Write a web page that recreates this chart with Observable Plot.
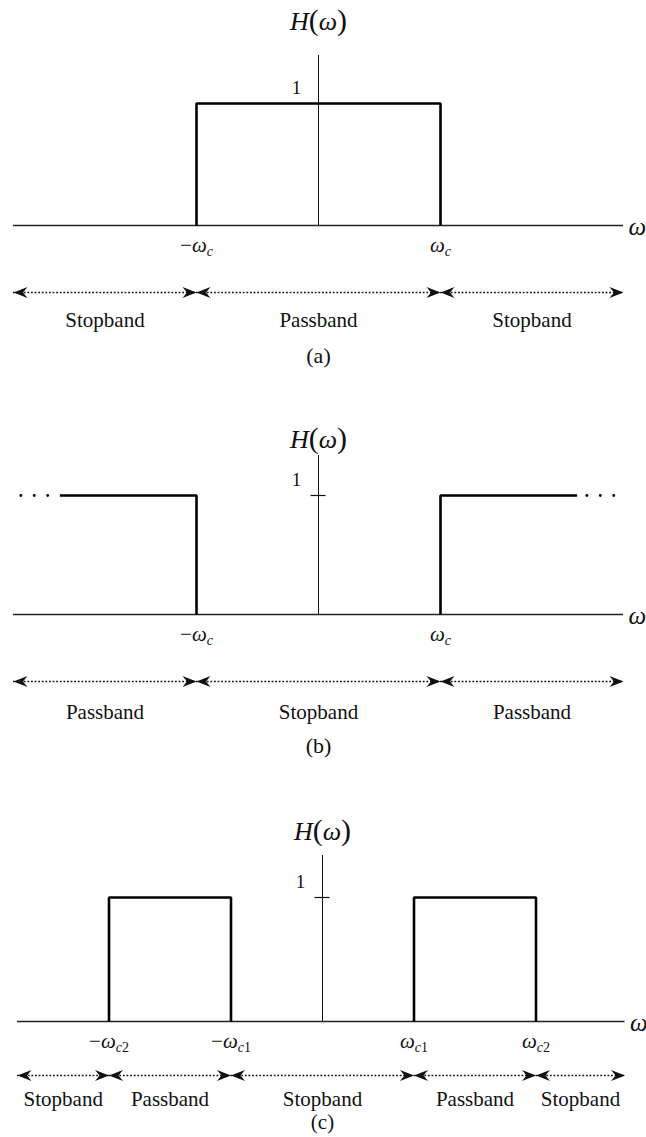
<!DOCTYPE html>
<html><head><meta charset="utf-8">
<script src="https://cdn.jsdelivr.net/npm/d3@7"></script>
<script src="https://cdn.jsdelivr.net/npm/@observablehq/plot@0.6"></script>
<style>
body{margin:0;background:#fff;}
#chart{width:646px;}
#chart svg{display:block;}
</style></head><body><div id="chart"></div>
<script>
// ---------- DATA ----------
const captions = ["(a)", "(b)", "(c)"];

// (a) ideal lowpass
const cutA = [-1, 1];
const cutLabelsA = ["−ω_c", "ω_c"];
const edgesA = [-2.5, -1, 1, 2.5];
const bandsA = ["Stopband", "Passband", "Stopband"];
const respA_x = [-1, -1, 1, 1];
const respA_h = [0, 1, 1, 0];
const respA_id = [0, 0, 0, 0];

// (b) ideal highpass
const cutB = [-1, 1];
const cutLabelsB = ["−ω_c", "ω_c"];
const edgesB = [-2.5, -1, 1, 2.5];
const bandsB = ["Passband", "Stopband", "Passband"];
const respB_x = [-2.12, -1, -1, 1, 1, 2.12];
const respB_h = [1, 1, 0, 0, 1, 1];
const respB_id = [0, 0, 0, 1, 1, 1];
const dotsB_x = [-2.44, -2.33, -2.22, 2.2, 2.31, 2.42];

// (c) ideal bandpass
const cutC = [-1.75, -0.75, 0.75, 1.75];
const cutLabelsC = ["−ω_c2", "−ω_c1", "ω_c1", "ω_c2"];
const edgesC = [-2.5, -1.75, -0.75, 0.75, 1.75, 2.48];
const bandsC = ["Stopband", "Passband", "Stopband", "Passband", "Stopband"];
const respC_x = [-1.75, -1.75, -0.75, -0.75, 0.75, 0.75, 1.75, 1.75];
const respC_h = [0, 1, 1, 0, 0, 1, 1, 0];
const respC_id = [0, 0, 0, 0, 1, 1, 1, 1];

const baseA = [-2.5, 2.5], baseB = [-2.5, 2.5], baseC = [-2.5, 2.48];
const gainTick = [1];

// ---------- LAYOUT ----------
const W = 646, PX = 122;
const FONT = "'Liberation Serif','DejaVu Serif',serif";
const TICK_HALF = 7.5 / PX;

const panels = [
  {cap: captions[0], cut: cutA, cutLabels: cutLabelsA, edges: edgesA, bands: bandsA,
   rx: respA_x, rh: respA_h, rid: respA_id, dots: [], base: baseA, tick: false,
   height: 380, baseline: 225, top: 103, axisTop: 55, hY: 21, center: 318,
   tickDy: 20, arrowDy: 67, bandDy: 95, capDy: 130, capSize: 22},
  {cap: captions[1], cut: cutB, cutLabels: cutLabelsB, edges: edgesB, bands: bandsB,
   rx: respB_x, rh: respB_h, rid: respB_id, dots: dotsB_x, base: baseB, tick: true,
   height: 378, baseline: 234, top: 115, axisTop: 75, hY: 59, center: 318,
   tickDy: 20, arrowDy: 67, bandDy: 98, capDy: 131, capSize: 22},
  {cap: captions[2], cut: cutC, cutLabels: cutLabelsC, edges: edgesC, bands: bandsC,
   rx: respC_x, rh: respC_h, rid: respC_id, dots: [], base: baseC, tick: true,
   height: 379, baseline: 263, top: 139, axisTop: 97, hY: 73, center: 322,
   tickDy: 20, arrowDy: 54, bandDy: 78, capDy: 101, capSize: 21}
];

// stealth arrowhead, tip at the point, pointing right
const stealth = {
  draw(ctx) {
    ctx.moveTo(0, 0);
    ctx.lineTo(-14, -5.5);
    ctx.lineTo(-9.5, 0);
    ctx.lineTo(-14, 5.5);
    ctx.closePath();
  }
};

function drawPanel(p) {
  const bands = p.bands.map((name, i) => ({name, x1: p.edges[i], x2: p.edges[i + 1]}));
  const heads = bands.flatMap(b => [{x: b.x1, rot: 180}, {x: b.x2, rot: 0}]);
  const resp = p.rx.map((x, i) => ({x, h: p.rh[i], id: p.rid[i]}));
  const cuts = p.cut.map((x, i) => ({x, label: p.cutLabels[i]}));
  const unitY = (p.baseline - p.top);
  const axisTopH = (p.baseline - p.axisTop) / unitY;
  const xDomain = [-p.center / PX, (W - p.center) / PX];

  const marks = [
    Plot.ruleY([0], {x1: p.base[0], x2: p.base[1], stroke: "#222", strokeWidth: 1.6}),
    Plot.ruleX([0], {y1: 0, y2: axisTopH, stroke: "#111", strokeWidth: 1}),
    Plot.line(resp, {x: "x", y: "h", z: "id", stroke: "#000", strokeWidth: 2.6, strokeLinejoin: "miter", strokeLinecap: "butt"}),
    Plot.dot(p.dots, {x: d => d, y: 1, r: 1.4, fill: "#000", stroke: null}),
    Plot.text(gainTick, {x: 0, y: d => d, text: d => String(d), dx: -22, dy: -16, fontSize: 19, fontFamily: FONT, fill: "#111"}),
    Plot.text(["H(ω)"], {x: 0, y: axisTopH, text: d => d, dy: -(p.axisTop - p.hY), fontSize: 26, fontFamily: FONT, fill: "#111", className: "hlabel"}),
    Plot.text(["ω"], {x: p.base[1], y: 0, text: d => d, dx: 5, dy: 1, textAnchor: "start", fontSize: 25, fontStyle: "italic", fontFamily: FONT, fill: "#111"}),
    Plot.text(cuts, {x: "x", y: 0, text: "label", dy: p.tickDy, fontSize: 21, fontFamily: FONT, fill: "#111", className: "sublabel"}),
    Plot.ruleY(bands, {x1: d => d.x1, x2: d => d.x2, y: 0, dy: p.arrowDy, stroke: "#111", strokeWidth: 1.3, strokeDasharray: "1.8,1.8"}),
    Plot.dot(heads, {x: "x", y: 0, dy: p.arrowDy, symbol: stealth, rotate: "rot", fill: "#111", stroke: null, r: 5}),
    Plot.text(bands, {x: d => (d.x1 + d.x2) / 2, y: 0, text: "name", dy: p.bandDy, fontSize: 21, fontFamily: FONT, fill: "#111"}),
    Plot.text([p.cap], {x: 0, y: 0, text: d => d, dy: p.capDy, fontSize: p.capSize, fontFamily: FONT, fill: "#111"})
  ];
  if (p.tick) {
    marks.push(Plot.ruleY(gainTick, {x1: -TICK_HALF, x2: TICK_HALF, y: d => d, stroke: "#111", strokeWidth: 1.2}));
  }

  const svg = Plot.plot({
    width: W, height: p.height,
    marginLeft: 0, marginRight: 0, marginTop: p.top, marginBottom: p.height - p.baseline,
    x: {domain: xDomain, axis: null},
    y: {domain: [0, 1], axis: null},
    style: {background: "#fff", overflow: "visible"},
    marks
  });

  const sel = d3.select(svg);
  sel.selectAll(".sublabel text").each(function () {
    const t = this.textContent;
    const [main, sub] = t.split("_");
    const node = d3.select(this);
    node.text(null);
    const minus = main.startsWith("−");
    if (minus) node.append("tspan").text("−");
    node.append("tspan").attr("font-style", "italic").text(minus ? main.slice(1) : main);
    const s = node.append("tspan").attr("font-size", 14).attr("dy", "0.3em");
    s.append("tspan").attr("font-style", "italic").text(sub[0]);
    if (sub.length > 1) s.append("tspan").text(sub.slice(1));
  });
  sel.selectAll(".hlabel text").each(function () {
    const node = d3.select(this);
    node.text(null);
    node.append("tspan").attr("font-style", "italic").text("H");
    node.append("tspan").attr("font-size", 30).text("(");
    node.append("tspan").attr("font-style", "italic").text("ω");
    node.append("tspan").attr("font-size", 30).text(")");
  });
  return svg;
}

const root = document.getElementById("chart");
for (const p of panels) root.appendChild(drawPanel(p));
</script>
</body></html>
